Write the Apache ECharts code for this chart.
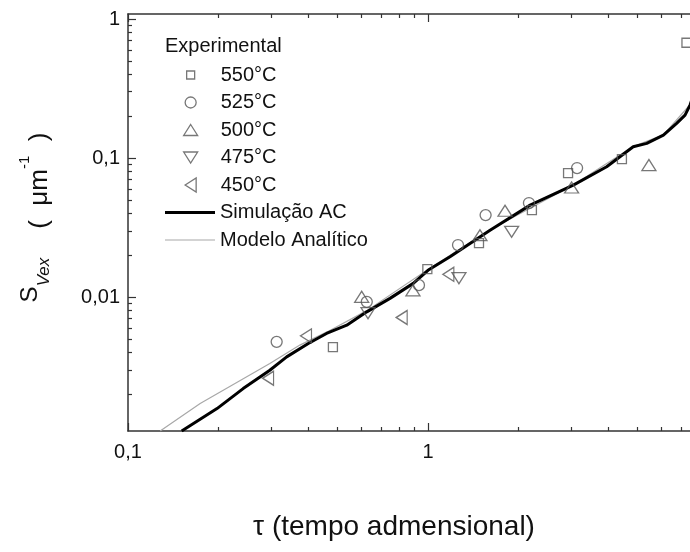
<!DOCTYPE html>
<html>
<head>
<meta charset="utf-8">
<script src="https://cdn.jsdelivr.net/npm/echarts@6/dist/echarts.min.js"></script>
<style>
  html, body { margin: 0; padding: 0; background: #fff; }
  #chart { width: 690px; height: 552px; }
</style>
</head>
<body>
<div id="chart"></div>
<script>
// experimental points [tau, S_Vex]
const s550 = [[0.482, 0.00437], [0.995, 0.0159], [1.479, 0.0245], [2.22, 0.0422], [2.93, 0.078], [4.43, 0.0984], [7.27, 0.675]];
const s525 = [[0.313, 0.00477], [0.625, 0.00925], [0.933, 0.0122], [1.259, 0.0237], [1.556, 0.0389], [2.17, 0.0475], [3.14, 0.0848]];
const s500 = [[0.601, 0.01005], [0.891, 0.0112], [1.49, 0.0279], [1.806, 0.0418], [3.01, 0.0615], [5.45, 0.0891]];
const s475 = [[0.631, 0.00767], [1.268, 0.0137], [1.9, 0.0295]];
const s450 = [[0.293, 0.00261], [0.392, 0.00527], [0.817, 0.00714], [1.169, 0.0146]];

// simulation (cellular automata) and analytic model curves
const simAC = [[0.151, 0.00109], [0.198, 0.00158], [0.242, 0.0022], [0.297, 0.00298], [0.338, 0.00372], [0.399, 0.00464],
  [0.459, 0.00548], [0.536, 0.00629], [0.625, 0.00784], [0.747, 0.0098], [0.893, 0.01256], [1.0, 0.0156], [1.184, 0.0195],
  [1.61, 0.0303], [2.19, 0.0459], [3.05, 0.0639], [3.94, 0.0866], [4.83, 0.1206], [5.36, 0.1276], [6.09, 0.1463],
  [6.74, 0.1776], [7.19, 0.2039], [7.47, 0.2406], [7.7, 0.29]];
const modelo = [[0.128, 0.00109], [0.174, 0.00172], [0.297, 0.00333], [0.374, 0.00452], [0.459, 0.0056], [0.625, 0.008],
  [1.0, 0.0158], [1.61, 0.0305], [3.05, 0.064], [4.83, 0.121], [6.09, 0.147], [7.47, 0.242], [7.7, 0.29]];

// ticks
const xMajor = [0.1, 1];
const xMinor = [0.2, 0.3, 0.4, 0.5, 0.6, 0.7, 0.8, 0.9, 2, 3, 4, 5, 6, 7];
const xLabels = [0.1, 1];
const yMajor = [0.01, 0.1, 1];
const yMinor = [0.002, 0.003, 0.004, 0.005, 0.006, 0.007, 0.008, 0.009,
  0.02, 0.03, 0.04, 0.05, 0.06, 0.07, 0.08, 0.09, 0.2, 0.3, 0.4, 0.5, 0.6, 0.7, 0.8, 0.9];
const yLabels = [0.01, 0.1, 1];

const FONT = "'Liberation Sans', Arial, sans-serif";
const AXIS = '#333';
const MARK = '#555';
// the picture is cut at the right edge, around tau = 7.47
const X_MIN = 0.1, X_MAX = 7.47, Y_MIN = 0.00109, Y_MAX = 1.087;

const fmt = v => String(+(+v).toPrecision(3)).replace('.', ',');

function axis(position, min, max, ticks, len, labels, showLine) {
  return {
    type: 'log', position: position, min: min, max: max,
    axisLine: { show: showLine, lineStyle: { color: AXIS, width: 1.5 } },
    axisTick: { show: true, inside: true, length: len, customValues: ticks, lineStyle: { color: AXIS, width: 1.2 } },
    axisLabel: labels ? {
      show: true, customValues: labels, formatter: fmt, fontSize: 20, color: '#111', fontFamily: FONT,
      margin: position === 'bottom' ? 11 : 8
    } : { show: false },
    splitLine: { show: false },
    minorTick: { show: false }
  };
}

const xAxes = [
  axis('bottom', X_MIN, X_MAX, xMajor, 8, xLabels, true),
  axis('bottom', X_MIN, X_MAX, xMinor, 4, null, false),
  axis('top', X_MIN, X_MAX, xMajor, 8, null, true),
  axis('top', X_MIN, X_MAX, xMinor, 4, null, false)
];
const yMain = axis('left', Y_MIN, Y_MAX, yMajor, 8, yLabels, true);
yMain.name = '{s|S}{sub|Vex}{n|    (  μm}{sup|-1}{n|  )}';
yMain.nameLocation = 'middle';
yMain.nameRotate = 90;
yMain.nameGap = 75;
yMain.nameTextStyle = {
  fontFamily: FONT, color: '#111', padding: [0, 0, 0, 10],
  rich: {
    s: { fontSize: 24, lineHeight: 46, fontFamily: FONT, color: '#111' },
    n: { fontSize: 26, lineHeight: 38, verticalAlign: 'bottom', fontFamily: FONT, color: '#111' },
    sub: { fontSize: 17, fontStyle: 'italic', lineHeight: 17, verticalAlign: 'bottom', fontFamily: FONT, color: '#111' },
    sup: { fontSize: 15, lineHeight: 14, verticalAlign: 'top', padding: [10, 0, 0, 0], fontFamily: FONT, color: '#111' }
  }
};
const yAxes = [yMain, axis('left', Y_MIN, Y_MAX, yMinor, 4, null, false)];

function scatter(name, data, symbol, size, rotate) {
  return {
    name: name, type: 'scatter', data: data, symbol: symbol, symbolSize: size, symbolRotate: rotate || 0,
    itemStyle: { color: 'rgba(0,0,0,0)', borderColor: MARK, borderWidth: 1.3 },
    emphasis: { disabled: true }, z: 4
  };
}

const series = [
  scatter('550°C', s550, 'rect', 9),
  scatter('525°C', s525, 'circle', 11),
  scatter('500°C', s500, 'triangle', [14, 11]),
  scatter('475°C', s475, 'triangle', [14, 11], 180),
  scatter('450°C', s450, 'triangle', [14, 11], 90),
  {
    name: 'Modelo Analítico', type: 'line', data: modelo, symbol: 'none', showSymbol: false,
    lineStyle: { color: '#a8a8a8', width: 1.2 }, itemStyle: { color: '#a8a8a8' }, z: 2
  },
  {
    name: 'Simulação AC', type: 'line', data: simAC, symbol: 'none', showSymbol: false,
    lineStyle: { color: '#000', width: 3 }, itemStyle: { color: '#000' }, z: 3
  }
];

// legend rows: scatter icons centred at x=190, labels start at x=220, line icons span 165-215
const legendRows = [
  { name: '550°C', w: 8, h: 8 },
  { name: '525°C', w: 11, h: 11 },
  { name: '500°C', w: 14, h: 11 },
  { name: '475°C', w: 14, h: 11, icon: 'path://M0,0L14,0L7,11Z' },
  { name: '450°C', w: 11, h: 14, icon: 'path://M0,7L11,0L11,14Z' },
  { name: 'Simulação AC', w: 50, h: 3, icon: 'rect', color: '#000', line: true },
  { name: 'Modelo Analítico', w: 50, h: 1.2, icon: 'rect', color: '#a8a8a8', line: true }
];
const legends = legendRows.map((r, i) => {
  const left = r.line ? 165 : 190 - r.w / 2;
  const pad = 220 - (left + r.w + 5);
  let item = r.name;
  if (r.line) item = { name: r.name, icon: r.icon, itemStyle: { color: r.color, borderWidth: 0 } };
  else if (r.icon) item = { name: r.name, icon: r.icon };
  return {
    data: [item],
    orient: 'vertical', left: left, top: 75 + i * 27.5 - 11, padding: 0,
    itemWidth: r.w, itemHeight: r.h, itemGap: 0, selectedMode: false,
    itemStyle: r.line ? { borderWidth: 0 } : { borderWidth: 1.3 },
    textStyle: { fontSize: 20, lineHeight: 22, color: '#111', fontFamily: FONT, padding: [0, 0, 0, pad] }
  };
});

const chart = echarts.init(document.getElementById('chart'), null, { renderer: 'canvas' });
chart.setOption({
  backgroundColor: '#fff',
  animation: false,
  grid: { left: 128, top: 14, bottom: 121, right: 0, containLabel: false, outerBoundsMode: 'none' },
  xAxis: xAxes,
  yAxis: yAxes,
  legend: legends,
  graphic: [
    { type: 'text', left: 165, top: 36, style: { text: 'Experimental', fontSize: 20, fontFamily: FONT, fill: '#111' } },
    { type: 'text', x: 394, y: 527, style: { text: 'τ (tempo admensional)', fontSize: 28, fontFamily: FONT, fill: '#111', align: 'center', verticalAlign: 'middle' } }
  ],
  series: series
});
</script>
</body>
</html>
